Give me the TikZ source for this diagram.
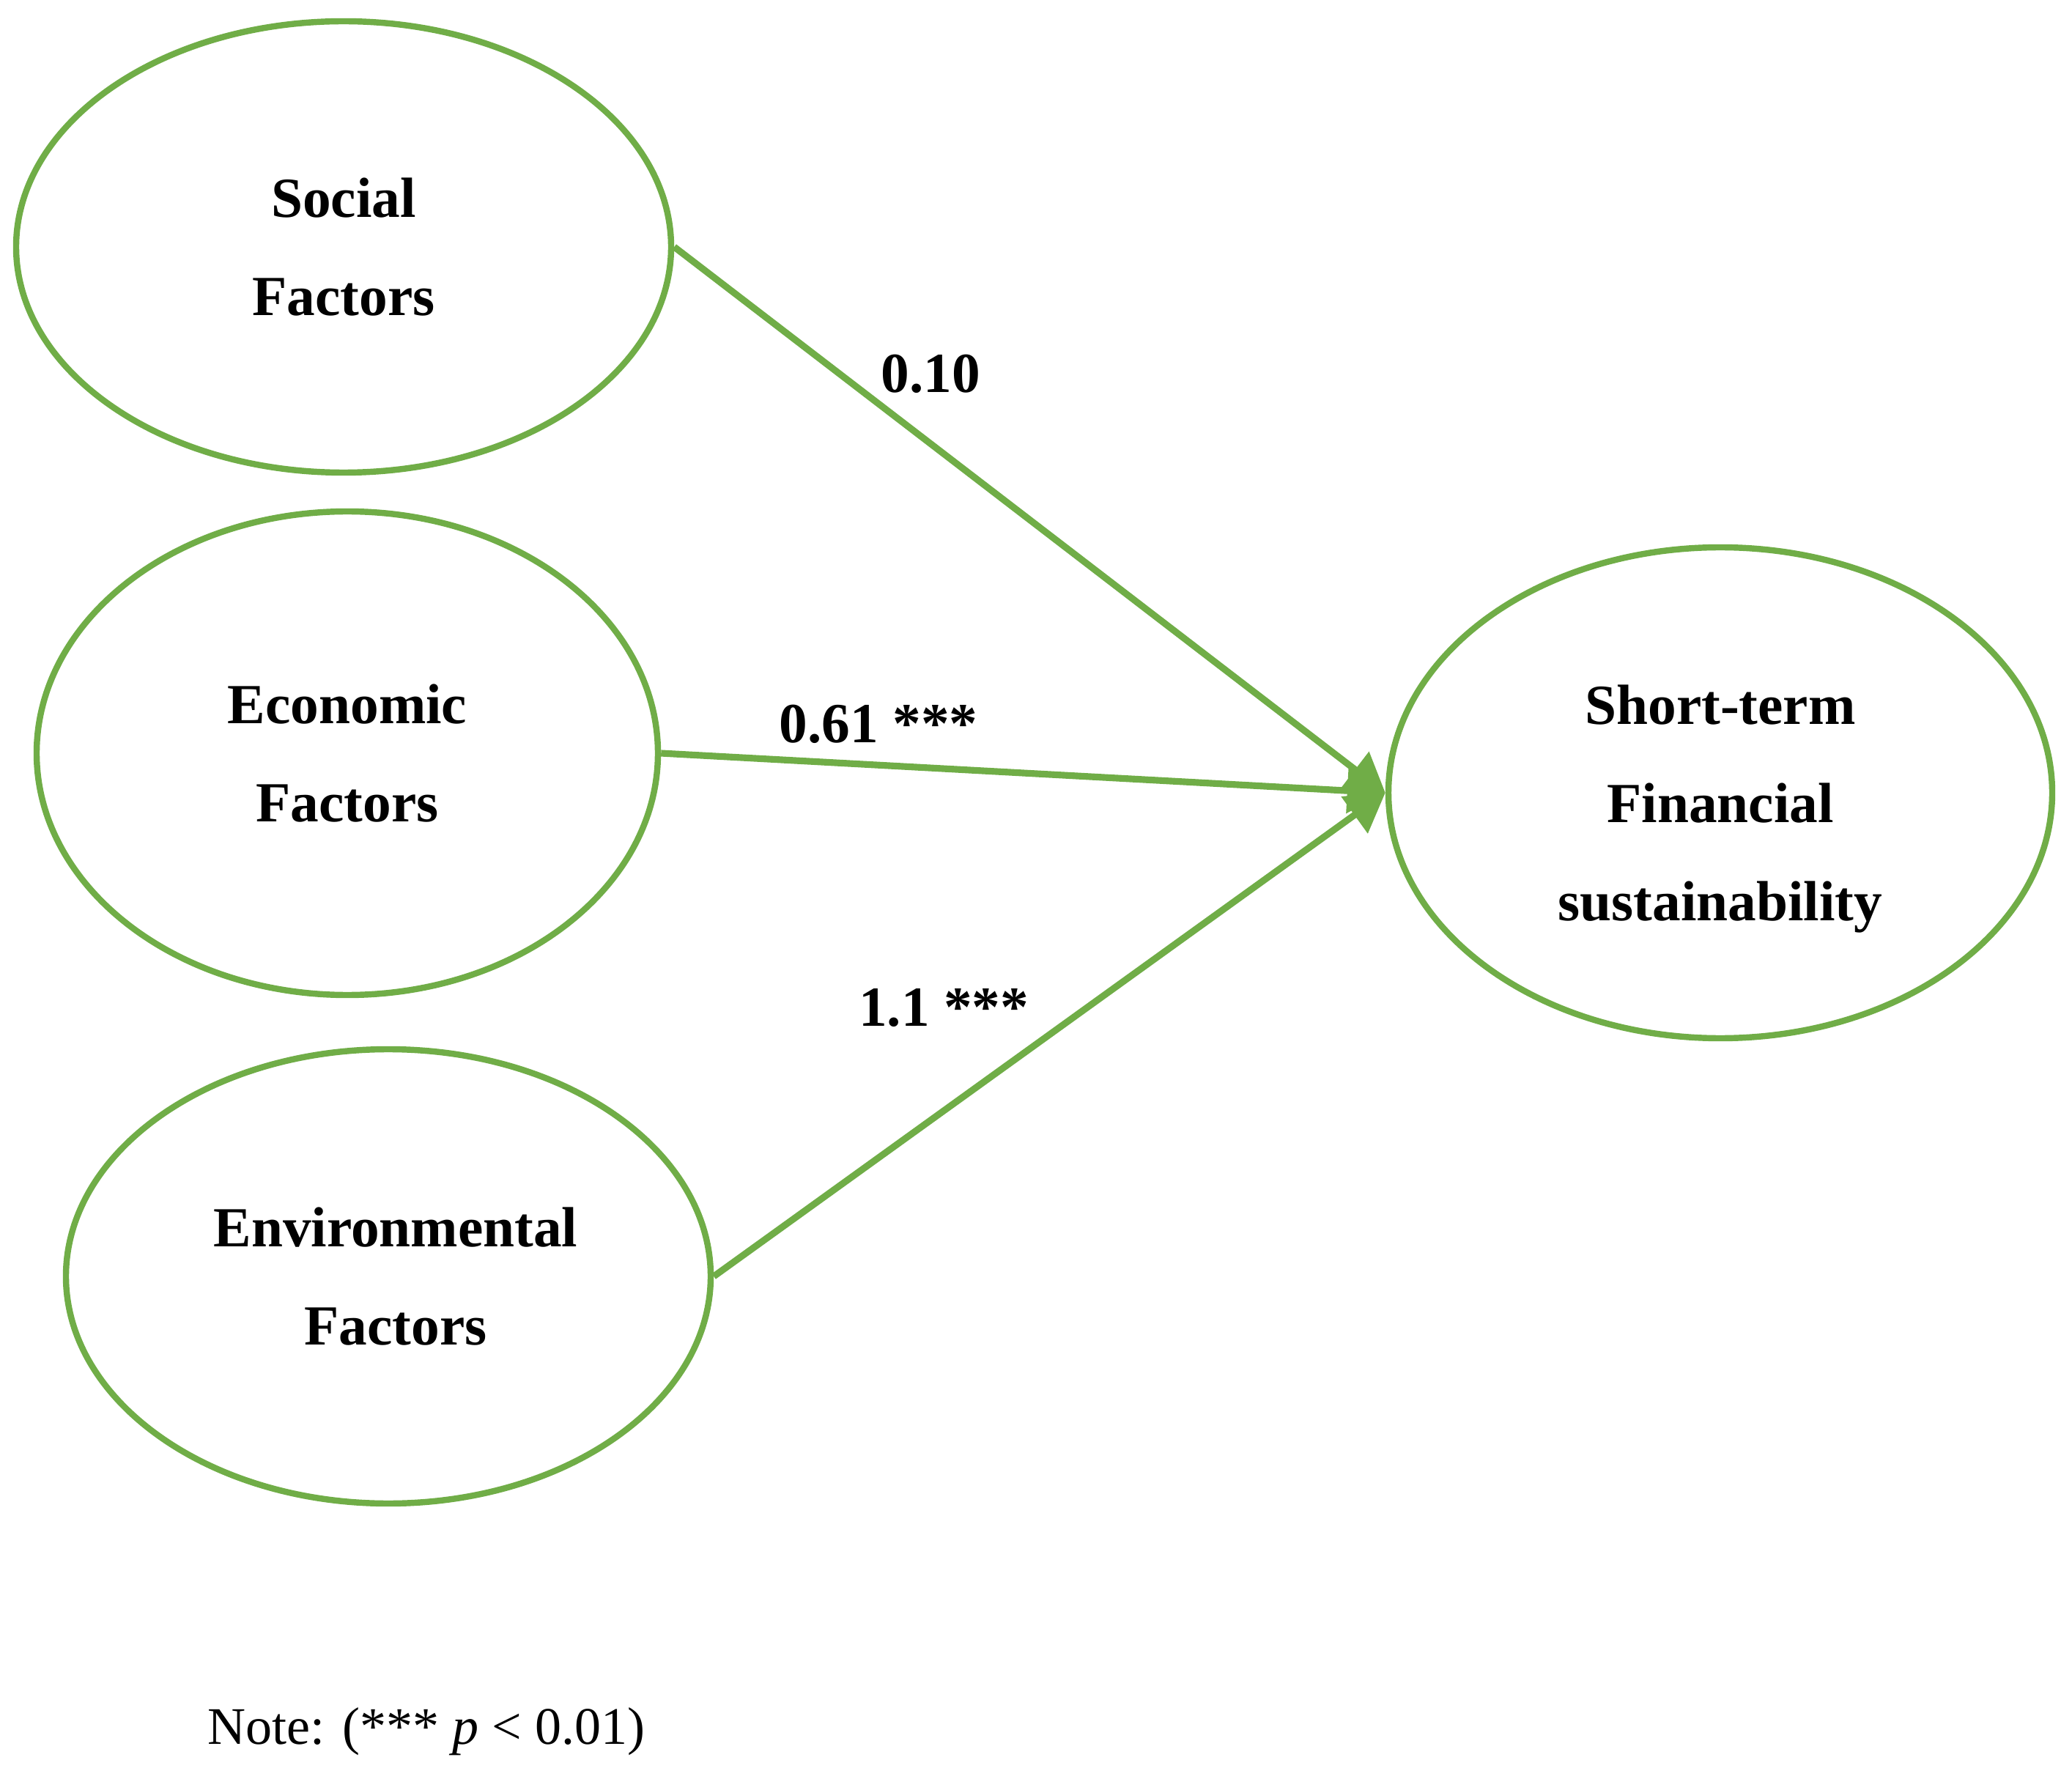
\documentclass[tikz,border=0pt]{standalone}
\usepackage{fontspec}
\setmainfont{Liberation Serif}
\usepackage{tikz}
\usetikzlibrary{shapes.geometric, arrows.meta}

\definecolor{pathgreen}{HTML}{70AD47}

\begin{document}
\begin{tikzpicture}[
    factor/.style={draw=pathgreen, line width=2.4pt, ellipse, inner sep=0pt, align=center,
        font=\fontsize{22}{38}\selectfont\bfseries},
    path arrow/.style={draw=pathgreen, line width=2.6pt, -{Triangle[length=0.52cm, width=0.6cm]}},
    coef/.style={font=\fontsize{22}{26}\selectfont\bfseries}
]
    \useasboundingbox (0, 0) rectangle (28.28, -24.43);

    % latent factors
    \node[factor, minimum width=8.94cm, minimum height=6.16cm] (social) at (4.69, -3.37) {Social\\Factors};
    \node[factor, minimum width=8.48cm, minimum height=6.60cm] (economic) at (4.74, -10.28) {Economic\\Factors};
    \node[factor, minimum width=8.80cm, minimum height=6.20cm] (environ) at (5.30, -17.42) {\hspace{0.2cm}Environmental\\\hspace{0.2cm}Factors};
    \node[factor, minimum width=9.06cm, minimum height=6.70cm] (sustain) at (23.48, -10.82) {\raisebox{-0.32cm}[0pt][0pt]{\begin{tabular}{@{}c@{}}Short-term\\Financial\\sustainability\end{tabular}}};

    % paths
    \draw[path arrow] (social.east) -- (sustain.west);
    \draw[path arrow] (economic.east) -- (sustain.west);
    \draw[path arrow] (environ.east) -- (sustain.west);

    \node[coef] (c1) at (12.70, -5.10) {0.10};
    \node[coef] (c2) at (11.99, -9.88) {0.61 ***};
    \node[coef] (c3) at (12.88, -13.76) {1.1 ***};

    \node[anchor=west, inner sep=0pt, font=\fontsize{20.5}{24}\selectfont] (note) at (2.83, -23.63) {Note: (*** \textit{p} < 0.01)};
\end{tikzpicture}
\end{document}
